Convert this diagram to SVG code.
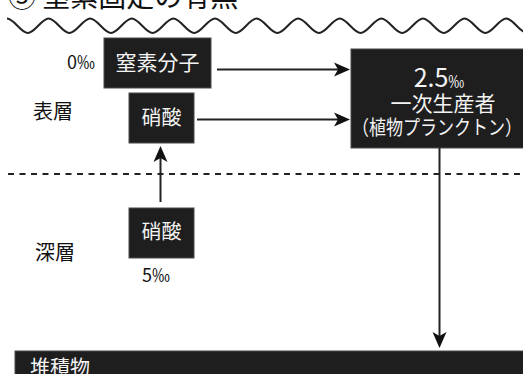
<svg xmlns="http://www.w3.org/2000/svg" width="523" height="374" viewBox="0 0 523 374">
<style>
.box{fill:#1e1e1e;stroke:#4a4a4a;stroke-width:1}
.wt{fill:#f4f4f4;font-family:"Noto Sans CJK JP","Noto Sans",sans-serif}
.bt{fill:#111;font-family:"Noto Sans CJK JP","Noto Sans",sans-serif}
.ln{stroke:#222;stroke-width:2;fill:none}
</style>
<defs>
<marker id="ah" markerUnits="userSpaceOnUse" markerWidth="16" markerHeight="14" refX="12" refY="7" orient="auto" overflow="visible">
<path d="M0,0 L16,7 L0,14 L4,7 z" fill="#111"/>
</marker>
</defs>
<text class="bt" x="8" y="7" font-size="28">③ 窒素固定の有無</text>
<path class="ln" d="M7,18.5 c7,0 13.8,14.5 20.8,14.5 s13.8,-14.5 20.8,-14.5 s13.8,14.5 20.8,14.5 s13.8,-14.5 20.8,-14.5 s13.8,14.5 20.8,14.5 s13.8,-14.5 20.8,-14.5 s13.8,14.5 20.8,14.5 s13.8,-14.5 20.8,-14.5 s13.8,14.5 20.8,14.5 s13.8,-14.5 20.8,-14.5 s13.8,14.5 20.8,14.5 s13.8,-14.5 20.8,-14.5 s13.8,14.5 20.8,14.5 s13.8,-14.5 20.8,-14.5 s13.8,14.5 20.8,14.5 s13.8,-14.5 20.8,-14.5 s13.8,14.5 20.8,14.5 s13.8,-14.5 20.8,-14.5 s13.8,14.5 20.8,14.5 s13.8,-14.5 20.8,-14.5 s13.8,14.5 20.8,14.5 s13.8,-14.5 20.8,-14.5 s13.8,14.5 20.8,14.5 s13.8,-14.5 20.8,-14.5 s13.8,14.5 20.8,14.5 s13.8,-14.5 20.8,-14.5"/>
<line x1="8" y1="174" x2="523" y2="174" stroke="#222" stroke-width="1.8" stroke-dasharray="6 5.5"/>
<text class="bt" x="95" y="69" font-size="18" text-anchor="end">0‰</text>
<text class="bt" x="33" y="119" font-size="20">表層</text>
<text class="bt" x="35" y="260" font-size="20">深層</text>
<text class="bt" x="142" y="282" font-size="18">5‰</text>
<g id="n2">
<rect class="box" x="104" y="38" width="107" height="50"/>
<text class="wt" x="157.5" y="70" font-size="21" text-anchor="middle">窒素分子</text>
</g>
<g id="nitrate-surface">
<rect class="box" x="129" y="93" width="65" height="50"/>
<text class="wt" x="161.5" y="125" font-size="20" text-anchor="middle">硝酸</text>
</g>
<g id="nitrate-deep">
<rect class="box" x="129" y="208" width="65" height="50"/>
<text class="wt" x="161.5" y="239" font-size="20" text-anchor="middle">硝酸</text>
</g>
<g id="producer">
<rect class="box" x="351" y="49" width="175" height="99"/>
<text class="wt" x="439" y="87" text-anchor="middle"><tspan font-size="25">2.5</tspan><tspan font-size="16">‰</tspan></text>
<text class="wt" x="443" y="111" font-size="21" text-anchor="middle">一次生産者</text>
<text class="wt" x="437" y="135" font-size="20" text-anchor="middle" textLength="170" lengthAdjust="spacingAndGlyphs">（植物プランクトン）</text>
</g>
<g id="sediment">
<rect class="box" x="15" y="351" width="512" height="30"/>
<text class="wt" x="30" y="375" font-size="20">堆積物</text>
</g>
<g id="connectors">
<line class="ln" x1="217" y1="69.5" x2="346" y2="69.5" marker-end="url(#ah)"/>
<line class="ln" x1="197" y1="119.5" x2="346" y2="119.5" marker-end="url(#ah)"/>
<line class="ln" x1="160.5" y1="202" x2="160.5" y2="150" marker-end="url(#ah)"/>
<line class="ln" x1="439.5" y1="148" x2="439.5" y2="344" marker-end="url(#ah)"/>
</g>
</svg>
